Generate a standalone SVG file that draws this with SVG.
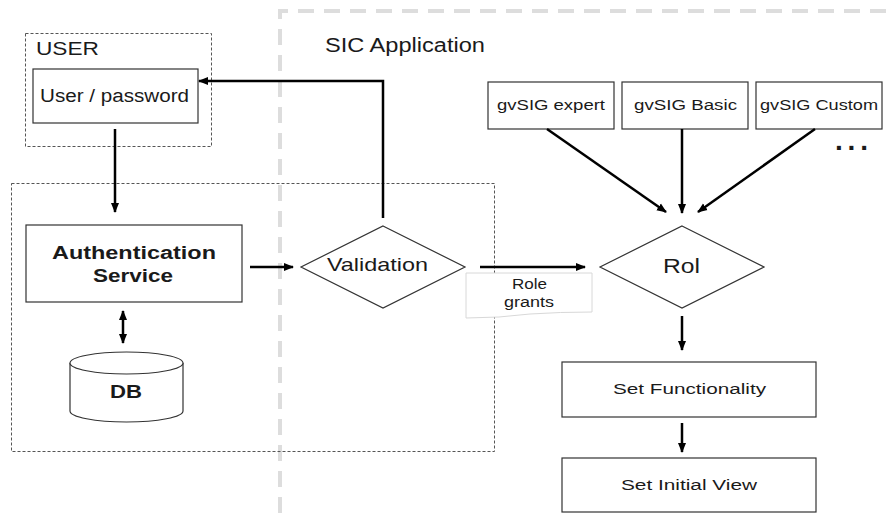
<svg xmlns="http://www.w3.org/2000/svg" width="886" height="521" viewBox="0 0 886 521">
<style>
.box{fill:#fff;stroke:#333;stroke-width:1.2}
.dash{fill:none;stroke:#555;stroke-width:1;stroke-dasharray:3 2}
.gray{fill:none;stroke:#ddd;stroke-width:4;stroke-dasharray:16 10}
.t{font-family:"Liberation Sans",Arial,sans-serif;fill:#1a1a1a;text-anchor:middle}
.s{text-anchor:start}
.b{font-weight:bold}
.c{fill:none;stroke:#000;stroke-width:2.5}
</style>
<defs>
<marker id="ah" viewBox="0 0 10 10" refX="9" refY="5" markerWidth="4" markerHeight="4" orient="auto-start-reverse" markerUnits="strokeWidth">
<path d="M0,1 L10,5 L0,9 z" fill="#000"/>
</marker>
</defs>
<rect width="886" height="521" fill="#fff"/>
<g id="sic-region">
<path class="gray" d="M886,11 H280 V521"/>
<text class="t s" x="325" y="52" font-size="19.5" textLength="160" lengthAdjust="spacingAndGlyphs">SIC Application</text>
</g>
<g id="user-region">
<rect class="dash" x="25.5" y="33.5" width="186" height="113"/>
<text class="t s" x="36" y="55" font-size="18" textLength="63" lengthAdjust="spacingAndGlyphs">USER</text>
</g>
<g id="auth-region">
<rect class="dash" x="11.5" y="183.5" width="483" height="268"/>
</g>
<g id="user-password">
<rect class="box" x="33" y="69" width="165" height="54"/>
<text class="t" x="114.5" y="102" font-size="18" textLength="149" lengthAdjust="spacingAndGlyphs">User / password</text>
</g>
<g id="authentication-service">
<rect class="box" x="26" y="225" width="216" height="77"/>
<text class="t b" x="134" y="259" font-size="18" textLength="164" lengthAdjust="spacingAndGlyphs">Authentication</text>
<text class="t b" x="133" y="282" font-size="18" textLength="80" lengthAdjust="spacingAndGlyphs">Service</text>
</g>
<g id="db">
<path class="box" d="M70,363 V411 A56.5,11 0 0 0 183,411 V363"/>
<ellipse class="box" cx="126.5" cy="363" rx="56.5" ry="11"/>
<text class="t b" x="126" y="398" font-size="18" textLength="32" lengthAdjust="spacingAndGlyphs">DB</text>
</g>
<g id="validation">
<polygon class="box" points="383,226 465,267 383,308 301,267"/>
<text class="t" x="377.5" y="271" font-size="18.5" textLength="101" lengthAdjust="spacingAndGlyphs">Validation</text>
</g>
<g id="role-grants">
<path d="M466,273 H592 V312 Q560,312 530,314 Q500,318 466,318 Z" fill="#fff" stroke="#d8d8d8" stroke-width="1"/>
<text class="t" x="529.5" y="289" font-size="14" textLength="35" lengthAdjust="spacingAndGlyphs">Role</text>
<text class="t" x="529" y="307" font-size="14" textLength="50" lengthAdjust="spacingAndGlyphs">grants</text>
</g>
<g id="gvsig-expert">
<rect class="box" x="488" y="82" width="126" height="47"/>
<text class="t" x="551" y="110" font-size="14" textLength="108" lengthAdjust="spacingAndGlyphs">gvSIG expert</text>
</g>
<g id="gvsig-basic">
<rect class="box" x="622" y="82" width="126" height="47"/>
<text class="t" x="685.5" y="110" font-size="14" textLength="103" lengthAdjust="spacingAndGlyphs">gvSIG Basic</text>
</g>
<g id="gvsig-custom">
<rect class="box" x="756" y="82" width="126" height="47"/>
<text class="t" x="819" y="110" font-size="14" textLength="118" lengthAdjust="spacingAndGlyphs">gvSIG Custom</text>
</g>
<g id="more">
<text class="t b s" x="835" y="150" font-size="28" textLength="33" lengthAdjust="spacing">...</text>
</g>
<g id="rol">
<polygon class="box" points="682,226 764,267 682,308 600,267"/>
<text class="t" x="681.5" y="273" font-size="20" textLength="37" lengthAdjust="spacingAndGlyphs">Rol</text>
</g>
<g id="set-functionality">
<rect class="box" x="562" y="362" width="254" height="55"/>
<text class="t" x="689.5" y="394" font-size="15.5" textLength="153" lengthAdjust="spacingAndGlyphs">Set Functionality</text>
</g>
<g id="set-initial-view">
<rect class="box" x="562" y="458" width="254" height="54"/>
<text class="t" x="689" y="490" font-size="15.5" textLength="136" lengthAdjust="spacingAndGlyphs">Set Initial View</text>
</g>
<g id="connectors">
<path class="c" d="M383,218 V81 H199" marker-end="url(#ah)"/>
<path class="c" d="M115,129 V212" marker-end="url(#ah)"/>
<path class="c" d="M250,267 H293" marker-end="url(#ah)"/>
<path class="c" d="M123,311 V343" marker-start="url(#ah)" marker-end="url(#ah)"/>
<path class="c" d="M480,267 H585" marker-end="url(#ah)"/>
<path class="c" d="M547,129 L666,212" marker-end="url(#ah)"/>
<path class="c" d="M682,129 V213" marker-end="url(#ah)"/>
<path class="c" d="M815,129 L698,212" marker-end="url(#ah)"/>
<path class="c" d="M682,316 V350" marker-end="url(#ah)"/>
<path class="c" d="M682,423 V452" marker-end="url(#ah)"/>
</g>
</svg>
